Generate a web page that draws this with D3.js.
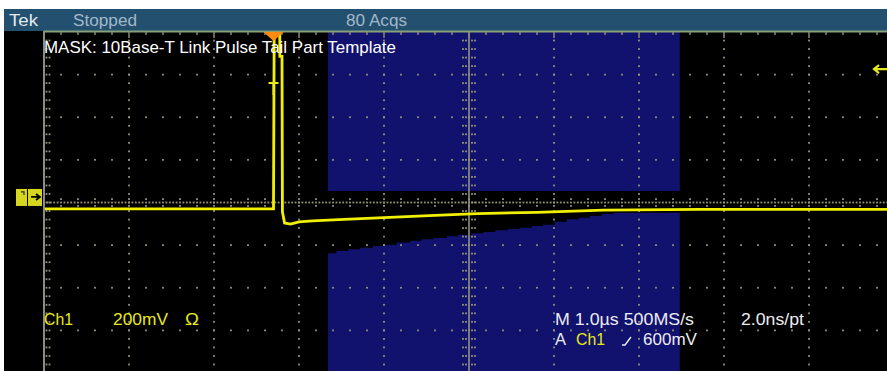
<!DOCTYPE html>
<html>
<head>
<meta charset="utf-8">
<script src="https://cdn.jsdelivr.net/npm/d3@7"></script>
<style>
  body { margin: 0; background: #fff; }
  svg { display: block; }
  text { font-family: "Liberation Sans", Arial, sans-serif; }
</style>
</head>
<body>
<div id="chart"></div>
<script>
// Ch1 waveform: time in µs from graticule left edge, level in mV
const traceTime = [0, 2.70, 2.71, 2.77, 2.775, 2.80, 2.805, 2.83, 2.90, 3.00, 3.16, 3.53, 4.00, 4.60, 5.10, 5.80, 6.58, 7.72, 9.92];
const traceMv   = [-56, -56, 1000, 1000, 660, 660, -70, -122, -127, -117, -112, -105, -97, -86, -78, -72, -62, -58, -58];

// mask template (mV)
const maskUpperTime = [3.34, 7.48];
const maskUpperMv = 28;
const maskLowerTime = [3.34, 3.44, 3.58, 3.72, 3.87, 4.01, 4.15, 4.31, 4.44, 4.58, 4.74, 4.87, 5.03, 5.17, 5.31,
                       5.46, 5.60, 5.74, 5.87, 6.01, 6.15, 6.29, 6.42, 6.56, 6.70, 7.48];
const maskLowerMv   = [-264, -253, -245, -238, -230, -224, -214, -206, -198, -192, -184, -178, -170, -164, -156,
                       -150, -144, -136, -130, -116, -105, -97, -89, -80, -74, -74];

const triggerTime = 2.70;
const triggerLevelMv = 600;
const triggerMarkMv = 535;
const mvPerDiv = 200;
const groundDiv = 0.13;

const statusLabels = ['Tek', 'Stopped', '80 Acqs'];
const maskTitle = 'MASK: 10Base-T Link Pulse Tail Part Template';
const chLabels = ['Ch1', '200mV', 'Ω'];
const timebaseLabels = ['M 1.0µs 500MS/s', '2.0ns/pt'];
const trigLabels = ['A', 'Ch1', '600mV'];

const W = 887, H = 371;
const svg = d3.select('#chart').append('svg').attr('width', W).attr('height', H);

const x = d3.scaleLinear().domain([0, 10]).range([44, 894]);
const yDiv = d3.scaleLinear().domain([-4, 4]).range([373, 32]);
const yMv = v => yDiv(v / mvPerDiv + groundDiv);

// frame
svg.append('rect').attr('x', 4).attr('y', 9).attr('width', W - 4).attr('height', 22).attr('fill', '#23506e');
svg.append('rect').attr('x', 4).attr('y', 31).attr('width', W - 4).attr('height', H - 31).attr('fill', '#000');

svg.append('defs').append('clipPath').attr('id', 'plot')
  .append('rect').attr('x', 44).attr('y', 32).attr('width', W - 44).attr('height', H - 32);

const plot = svg.append('g').attr('clip-path', 'url(#plot)');

// mask
const maskColor = '#11116e';
plot.append('rect')
  .attr('x', x(maskUpperTime[0])).attr('y', yDiv(4))
  .attr('width', x(maskUpperTime[1]) - x(maskUpperTime[0]))
  .attr('height', yMv(maskUpperMv) - yDiv(4))
  .attr('fill', maskColor);

const maskArea = d3.area()
  .x((d, i) => x(maskLowerTime[i]))
  .y0(yDiv(-4))
  .y1((d, i) => yMv(maskLowerMv[i]))
  .curve(d3.curveStepAfter);
plot.append('path').datum(maskLowerTime).attr('d', maskArea).attr('fill', maskColor);

// graticule
const gridColor = '#94947e';
const dot = (g, cx, cy) => g.append('rect').attr('x', cx - 0.9).attr('y', cy - 0.9)
  .attr('width', 1.8).attr('height', 1.8).attr('fill', gridColor);
const grid = plot.append('g');
const colStep = (x(1) - x(0)) / 5, rowStep = (yDiv(0) - yDiv(1)) / 5;

d3.range(1, 10).filter(i => i !== 5).forEach(i => {
  for (let k = 1; k < 40; k++) dot(grid, x(i), yDiv(4) + k * rowStep);
});
d3.range(-3, 4).filter(j => j !== 0).forEach(j => {
  for (let k = 1; k < 50; k++) dot(grid, x(0) + k * colStep, yDiv(j));
});
// centre horizontal axis
for (let k = 1; k < 250; k++) dot(grid, x(0) + k * colStep / 5, yDiv(0));
for (let k = 1; k < 50; k++) {
  dot(grid, x(0) + k * colStep, yDiv(0) - 3.4);
  dot(grid, x(0) + k * colStep, yDiv(0) + 3.4);
}
// centre vertical axis
grid.append('line').attr('x1', x(5)).attr('x2', x(5)).attr('y1', yDiv(4)).attr('y2', H)
  .attr('stroke', gridColor).attr('stroke-width', 1.6);
for (let k = 1; k < 40; k++) {
  const cy = yDiv(4) + k * rowStep;
  [-6, -3, 3, 6].forEach(dx => dot(grid, x(5) + dx, cy));
}
// left border with ticks
svg.append('line').attr('x1', 44).attr('x2', 44).attr('y1', 31).attr('y2', H)
  .attr('stroke', '#8c8c80').attr('stroke-width', 2);
for (let k = 1; k < 40; k++) {
  const cy = yDiv(4) + k * rowStep;
  dot(svg, x(0) + 2.5, cy); dot(svg, x(0) + 5.5, cy);
}
// top border with ticks
svg.append('line').attr('x1', 44).attr('x2', W).attr('y1', 31.5).attr('y2', 31.5)
  .attr('stroke', '#87a07a').attr('stroke-width', 2);
for (let k = 1; k < 50; k++) {
  const tx = x(0) + k * colStep;
  svg.append('line').attr('x1', tx).attr('x2', tx).attr('y1', 32).attr('y2', k % 5 === 0 ? 38 : 35)
    .attr('stroke', '#8a8a70').attr('stroke-width', 1.5);
}

// waveform
const traceColor = '#f0f000';
const line = d3.line().x((d, i) => x(traceTime[i])).y((d, i) => yMv(traceMv[i]));
plot.append('path').datum(traceTime).attr('d', line)
  .attr('fill', 'none').attr('stroke', traceColor).attr('stroke-width', 2.8);

// trigger marks
const tx = x(triggerTime);
svg.append('path').attr('d', `M${tx - 10},32L${tx + 10},32L${tx},41Z`).attr('fill', '#ff8a10');
const ty = yMv(triggerMarkMv);
svg.append('path').attr('d', `M${tx - 5},${ty}H${tx + 5}M${tx},${ty}V${ty + 12}`)
  .attr('stroke', '#e8e820').attr('stroke-width', 2).attr('fill', 'none');
const ly = yMv(triggerLevelMv);
svg.append('path').attr('d', `M${W},${ly}H${W - 12}M${W - 8},${ly - 4}L${W - 13},${ly}L${W - 8},${ly + 4}`)
  .attr('stroke', '#e8e820').attr('stroke-width', 2.2).attr('fill', 'none');

// ground marker
const gy = yMv(0);
svg.append('rect').attr('x', 16).attr('y', gy - 8).attr('width', 26).attr('height', 17).attr('fill', '#d6d620');
svg.append('line').attr('x1', 27.5).attr('x2', 27.5).attr('y1', gy - 8).attr('y2', gy + 9).attr('stroke', '#000').attr('stroke-width', 1);
svg.append('path').attr('d', `M21,${gy - 5}H24V${gy - 2}`).attr('stroke', '#333').attr('stroke-width', 1.2).attr('fill', 'none');
svg.append('path').attr('d', `M31,${gy}H40M36,${gy - 3}L40,${gy}L36,${gy + 3}`)
  .attr('stroke', '#000').attr('stroke-width', 1.8).attr('fill', 'none');

// labels
function label(t, px, py, len, color) {
  svg.append('text').attr('x', px).attr('y', py).attr('font-size', 17)
    .attr('textLength', len).attr('lengthAdjust', 'spacingAndGlyphs')
    .attr('fill', color).text(t);
}
label(statusLabels[0], 9, 26, 29, '#e2eaf0');
label(statusLabels[1], 73, 26, 64, '#a2b8ca');
label(statusLabels[2], 346, 26, 61, '#a2b8ca');
label(maskTitle, 44, 52.5, 352, '#ffffff');

const yellow = '#e8e81a', white = '#ececf2';
label(chLabels[0], 44, 325, 29, yellow);
label(chLabels[1], 113, 325, 55, yellow);
label(chLabels[2], 185, 325, 14, yellow);
label(timebaseLabels[0], 555, 325, 139, white);
label(timebaseLabels[1], 741, 325, 63, white);
label(trigLabels[0], 555, 345, 11, white);
label(trigLabels[1], 576, 345, 29, yellow);
label(trigLabels[2], 643, 345, 54, white);
svg.append('path').attr('d', 'M622,345H625L631,337').attr('stroke', white).attr('stroke-width', 1.4).attr('fill', 'none');
</script>
</body>
</html>
